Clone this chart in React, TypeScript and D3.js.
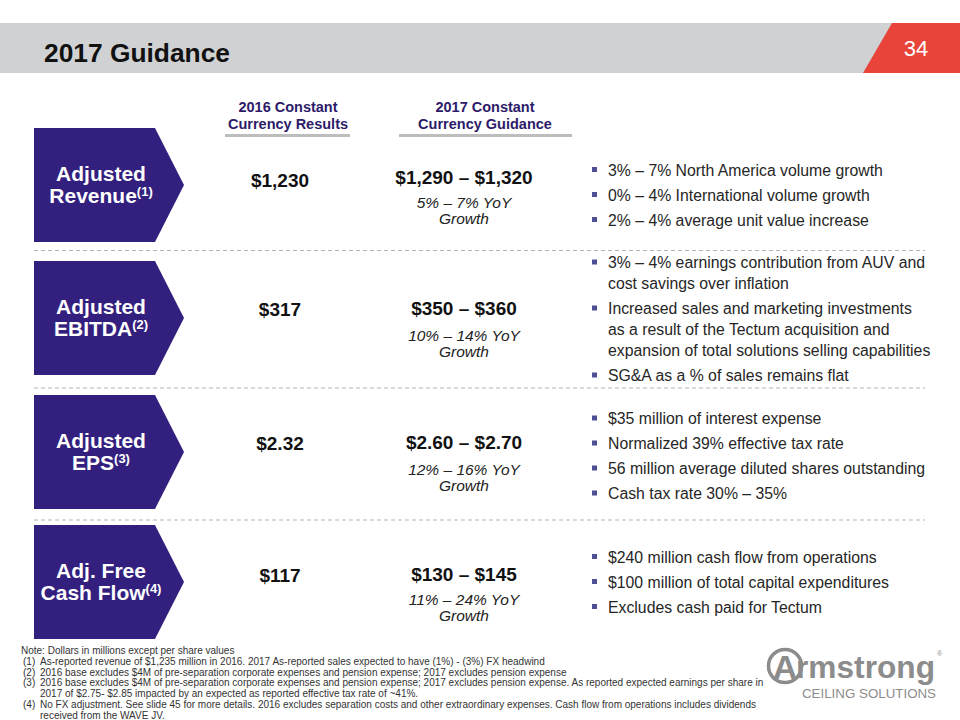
import React from "react";
import * as d3 from "d3";

const W = 960;
const H = 720;

const pageNumber = "34";
const title = "2017 Guidance";
const columnHeaders = [
  ["2016 Constant", "Currency Results"],
  ["2017 Constant", "Currency Guidance"],
];
const metricLines = [
  ["Adjusted", "Revenue"],
  ["Adjusted", "EBITDA"],
  ["Adjusted", "EPS"],
  ["Adj. Free", "Cash Flow"],
];
const metricRefs = ["(1)", "(2)", "(3)", "(4)"];
const results2016 = ["$1,230", "$317", "$2.32", "$117"];
const guidance2017 = ["$1,290 – $1,320", "$350 – $360", "$2.60 – $2.70", "$130 – $145"];
const growthLabels = ["5% – 7% YoY", "10% – 14% YoY", "12% – 16% YoY", "11% – 24% YoY"];
const growthSuffix = "Growth";
const bulletsRevenue = [
  ["3% – 7% North America volume growth"],
  ["0% – 4% International volume growth"],
  ["2% – 4% average unit value increase"],
];
const bulletsEbitda = [
  ["3% – 4% earnings contribution from AUV and", "cost savings over inflation"],
  ["Increased sales and marketing investments", "as a result of the Tectum acquisition and", "expansion of total solutions selling capabilities"],
  ["SG&A as a % of sales remains flat"],
];
const bulletsEps = [
  ["$35 million of interest expense"],
  ["Normalized 39% effective tax rate"],
  ["56 million average diluted shares outstanding"],
  ["Cash tax rate 30% – 35%"],
];
const bulletsFcf = [
  ["$240 million cash flow from operations"],
  ["$100 million of total capital expenditures"],
  ["Excludes cash paid for Tectum"],
];
const bulletGroups = [bulletsRevenue, bulletsEbitda, bulletsEps, bulletsFcf];

const noteLine = "Note: Dollars in millions except per share values";
const footnoteNums = ["(1)", "(2)", "(3)", "(4)"];
const footnotes = [
  ["As-reported revenue of $1,235 million in 2016. 2017 As-reported sales expected to have (1%) - (3%) FX headwind"],
  ["2016 base excludes $4M of pre-separation corporate expenses and pension expense; 2017 excludes pension expense"],
  [
    "2016 base excludes $4M of pre-separation corporate expenses and pension expense; 2017 excludes pension expense. As reported expected earnings per share in",
    "2017 of $2.75- $2.85 impacted by an expected as reported effective tax rate of ~41%.",
  ],
  [
    "No FX adjustment. See slide 45 for more details. 2016 excludes separation costs and other extraordinary expenses. Cash flow from operations includes dividends",
    "received from the WAVE JV.",
  ],
];

const PURPLE = "#33207e";
const HEAD_PURPLE = "#2d1b69";
const FONT = "Arial, 'Liberation Sans', Helvetica, sans-serif";

// layout tweaks (pixels) per row
const ROW_TOPS = [128, 261, 395, 525];
const SEP_AFTER = [8.5, 13, 11];
const BULLET_SHIFT = [10, 1, 4, 0];
const VALUE_SHIFT = [3, 0, 0, 2];

export default function App() {
  const rowTop = (i: number) => ROW_TOPS[i];
  const rowH = 114;
  const colX = d3.scaleOrdinal<number, number>().domain([0, 1]).range([288, 485]);

  const arrowLine = d3.line<[number, number]>();
  const arrowPath = (top: number) =>
    arrowLine([
      [34, top],
      [155, top],
      [184, top + rowH / 2],
      [155, top + rowH],
      [34, top + rowH],
    ]) + "Z";

  const WRAP = 21;
  const GAP = 25;

  const bulletLayout = (groups: string[][], i: number) => {
    const lines: { text: string; y: number; first: boolean }[] = [];
    let y = 0;
    groups.forEach((g, gi) => {
      if (gi > 0) y += GAP;
      g.forEach((t, li) => {
        if (li > 0) y += WRAP;
        lines.push({ text: t, y, first: li === 0 });
      });
    });
    const span = y;
    const center = rowTop(i) + rowH / 2 + BULLET_SHIFT[i];
    const start = center - span / 2;
    return lines.map((l) => ({ ...l, y: l.y + start }));
  };

  const footY = d3.scaleLinear().domain([0, 1]).range([654, 664.8]);
  let fi = 1;
  const footRows: { num?: string; text: string; idx: number }[] = [];
  footnotes.forEach((f, k) => {
    f.forEach((t, li) => {
      footRows.push({ num: li === 0 ? footnoteNums[k] : undefined, text: t, idx: fi });
      fi++;
    });
  });

  return (
    <svg
      width={W}
      height={H}
      style={{ position: "absolute", left: 0, top: 0, fontFamily: FONT }}
    >
      <rect x={0} y={0} width={W} height={H} fill="#ffffff" />
      {/* Header band */}
      <rect x={0} y={23} width={W} height={50} fill="#d0d1d3" />
      <path d={`M892,23 L${W},23 L${W},73 L863,73 Z`} fill="#e8443a" />
      <text x={44} y={61.5} fontSize={25} fontWeight="bold" fill="#111" textLength={186} lengthAdjust="spacingAndGlyphs">
        {title}
      </text>
      <text x={916} y={56} fontSize={22} fill="#ffffff" textAnchor="middle">
        {pageNumber}
      </text>

      {/* Column headers */}
      {columnHeaders.map((h, c) => (
        <g key={c}>
          {h.map((t, li) => (
            <text
              key={li}
              x={colX(c)}
              y={112 + li * 17}
              fontSize={14.5}
              fontWeight="bold"
              fill={HEAD_PURPLE}
              textAnchor="middle"
            >
              {t}
            </text>
          ))}
        </g>
      ))}
      <rect x={225} y={134} width={125} height={3} fill="#bdbdbd" />
      <rect x={399} y={134} width={173} height={3} fill="#bdbdbd" />

      {/* Rows */}
      {metricLines.map((lines, i) => {
        const top = rowTop(i);
        return (
          <g key={i}>
            <path d={arrowPath(top)} fill={PURPLE} />
            <text x={101} y={top + 53} fontSize={21} fontWeight="bold" fill="#fff" textAnchor="middle">
              {lines[0]}
            </text>
            <text x={101} y={top + 75} fontSize={21} fontWeight="bold" fill="#fff" textAnchor="middle">
              {lines[1]}
              <tspan fontSize={13} dy={-7}>
                {metricRefs[i]}
              </tspan>
            </text>
            <text x={280} y={top + 55 + VALUE_SHIFT[i] + (i === 0 ? 1 : 0)} fontSize={19} fontWeight="bold" fill="#111" textAnchor="middle">
              {results2016[i]}
            </text>
            <text x={464} y={top + 54 + VALUE_SHIFT[i] - (i === 0 ? 1 : 0)} fontSize={19} fontWeight="bold" fill="#111" textAnchor="middle">
              {guidance2017[i]}
            </text>
            <text x={464} y={top + 80} fontSize={15.5} fontStyle="italic" fill="#222" textAnchor="middle">
              {growthLabels[i]}
            </text>
            <text x={464} y={top + 96} fontSize={15.5} fontStyle="italic" fill="#222" textAnchor="middle">
              {growthSuffix}
            </text>
            {bulletLayout(bulletGroups[i], i).map((l, k) => (
              <g key={k}>
                {l.first && <rect x={592} y={l.y - 3} width={5} height={5} fill="#4f4f95" />}
                <text x={608} y={l.y + 5.5} fontSize={15.8} fill="#262626">
                  {l.text}
                </text>
              </g>
            ))}
            {i < metricLines.length - 1 && (
              <line
                x1={34}
                x2={925}
                y1={top + rowH + SEP_AFTER[i]}
                y2={top + rowH + SEP_AFTER[i]}
                stroke="#b3b3b3"
                strokeWidth={1}
                strokeDasharray="4,3"
              />
            )}
          </g>
        );
      })}

      {/* Footnotes */}
      <text x={21} y={footY(0)} fontSize={10} fill="#333">
        {noteLine}
      </text>
      {footRows.map((r, k) => (
        <g key={k}>
          {r.num && (
            <text x={23} y={footY(r.idx)} fontSize={10} fill="#333">
              {r.num}
            </text>
          )}
          <text x={40} y={footY(r.idx)} fontSize={10} fill="#333">
            {r.text}
          </text>
        </g>
      ))}

      {/* Logo */}
      <g fill="#8c8c8c">
        <circle cx={785} cy={666} r={16.5} fill="none" stroke="#8c8c8c" strokeWidth={3.5} />
        <text x={785} y={679} fontSize={34} fontWeight="bold" textAnchor="middle">
          A
        </text>
        <text x={796} y={678} fontSize={31} fontWeight="bold" textLength={139} lengthAdjust="spacingAndGlyphs">
          rmstrong
        </text>
        <text x={937} y={656} fontSize={7}>
          ®
        </text>
        <text x={802} y={698} fontSize={13} textLength={134} lengthAdjust="spacingAndGlyphs">
          CEILING SOLUTIONS
        </text>
      </g>
    </svg>
  );
}
